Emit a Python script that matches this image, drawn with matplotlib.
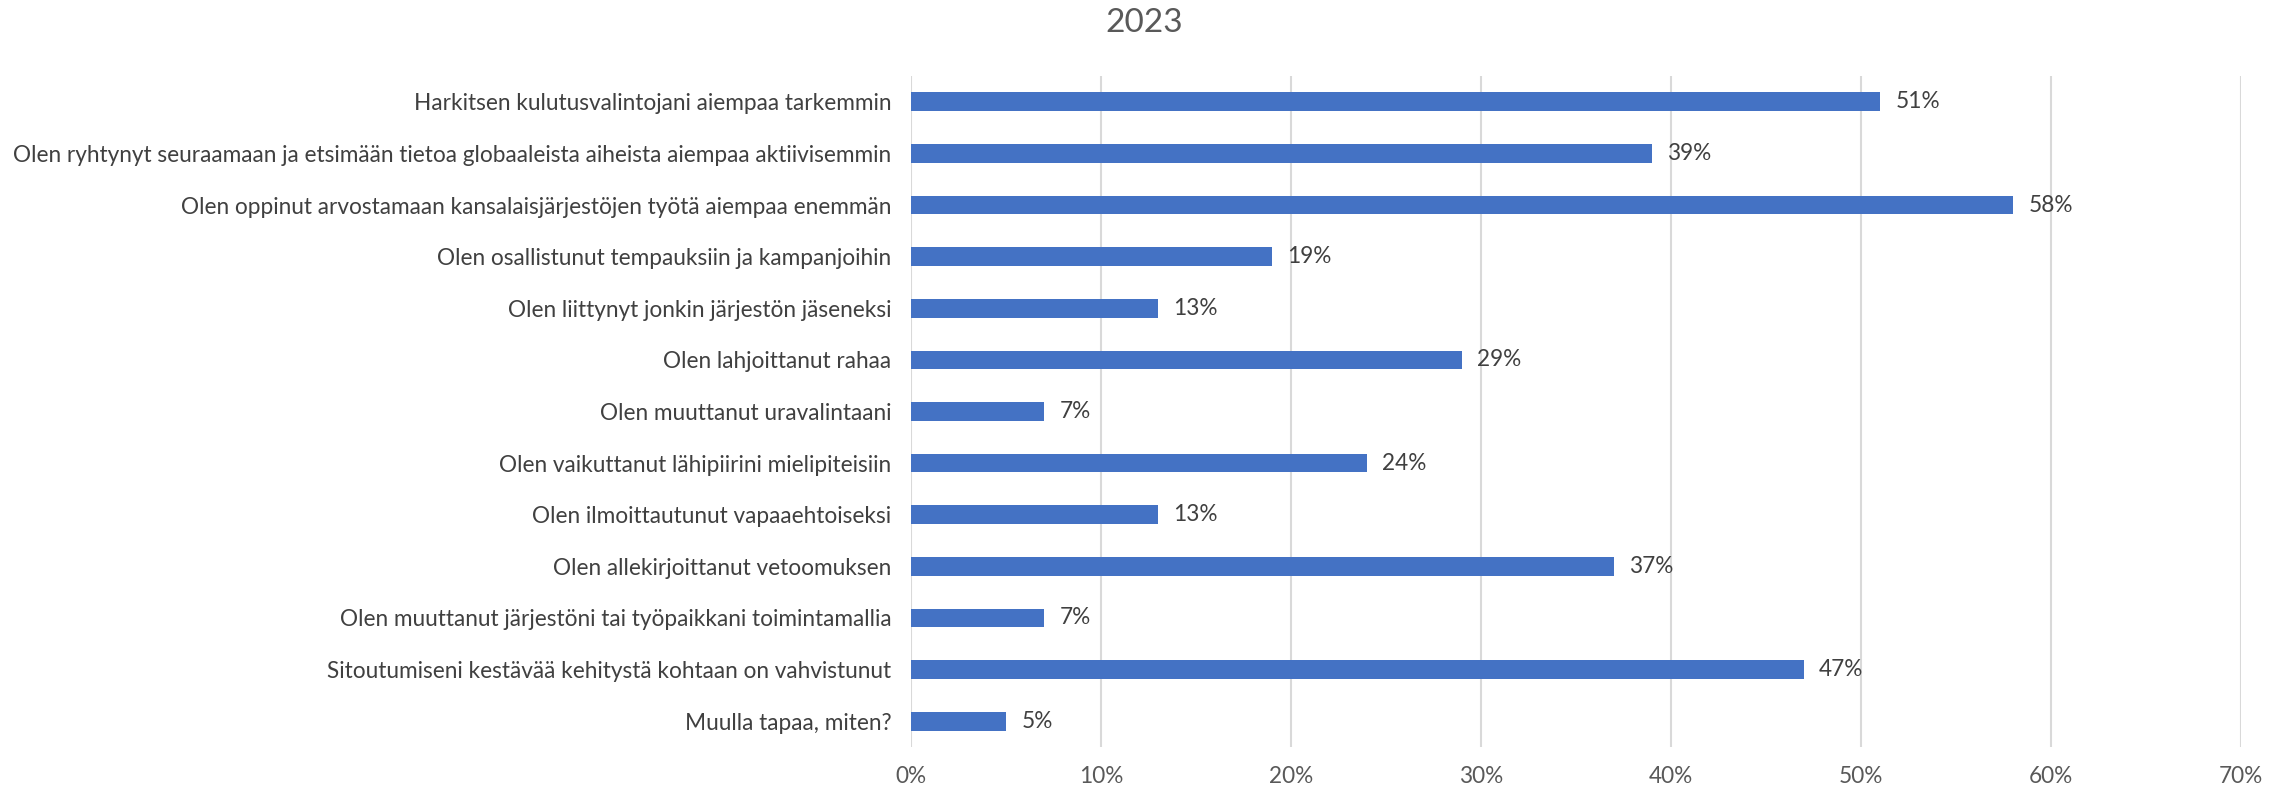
import matplotlib.pyplot as plt
from matplotlib.ticker import MultipleLocator, FuncFormatter

categories = [
    'Harkitsen kulutusvalintojani aiempaa tarkemmin',
    'Olen ryhtynyt seuraamaan ja etsimään tietoa globaaleista aiheista aiempaa aktiivisemmin',
    'Olen oppinut arvostamaan kansalaisjärjestöjen työtä aiempaa enemmän',
    'Olen osallistunut tempauksiin ja kampanjoihin',
    'Olen liittynyt jonkin järjestön jäseneksi',
    'Olen lahjoittanut rahaa',
    'Olen muuttanut uravalintaani',
    'Olen vaikuttanut lähipiirini mielipiteisiin',
    'Olen ilmoittautunut vapaaehtoiseksi',
    'Olen allekirjoittanut vetoomuksen',
    'Olen muuttanut järjestöni tai työpaikkani toimintamallia',
    'Sitoutumiseni kestävää kehitystä kohtaan on vahvistunut',
    'Muulla tapaa, miten?',
]
values = [0.51, 0.39, 0.58, 0.19, 0.13, 0.29, 0.07, 0.24, 0.13, 0.37, 0.07, 0.47, 0.05]
title = '2023'

plt.rcParams['font.family'] = ['Lato', 'DejaVu Sans']

fig = plt.figure(figsize=(22.89, 7.88), dpi=100)
ax = fig.add_axes([0.398, 0.052, 0.581, 0.8516])

pos = list(range(len(categories)))
bars = ax.barh(pos, values, height=0.36, color='#4472C4', zorder=3)
ax.set_ylim(len(categories) - 0.5, -0.5)
ax.set_xlim(0, 0.7)

ax.set_yticks(pos)
ax.set_yticklabels(categories, fontsize=16.3, color='#404040')
ax.xaxis.set_major_locator(MultipleLocator(0.1))
ax.xaxis.set_major_formatter(FuncFormatter(lambda v, _: f'{v * 100:.0f}%'))
ax.tick_params(axis='x', labelsize=16.3, labelcolor='#595959', length=0, pad=14)
ax.tick_params(axis='y', length=0, pad=14)

ax.grid(axis='x', color='#D9D9D9', linewidth=1.5, zorder=0)
for s in ax.spines.values():
    s.set_visible(False)

for rect, v in zip(bars, values):
    ax.annotate(f'{v * 100:.0f}%', (rect.get_width(), rect.get_y() + rect.get_height() / 2),
                xytext=(11, 0), textcoords='offset points', va='center', ha='left',
                fontsize=16.3, color='#404040')

fig.suptitle(title, fontsize=24, color='#595959', y=0.99, va='top')

fig.savefig('out.png', dpi=100)
